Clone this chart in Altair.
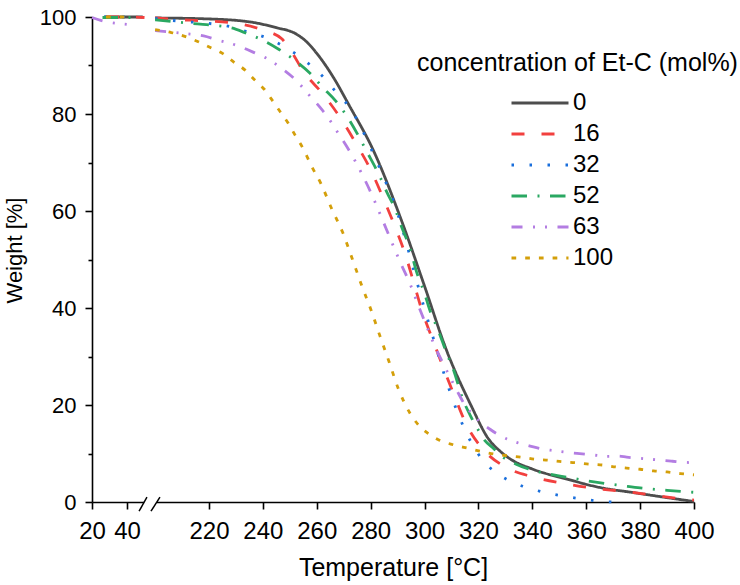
import altair as alt
import pandas as pd

# ---------------- data ----------------
conc = ["0", "16", "32", "52", "63", "100"]
colors = ["#4d4d4d", "#f2403e", "#1a6fdc", "#2aa862", "#b37de2", "#d49f0a"]
dashes = [[1, 0], [13, 17], [2.5, 15.5], [15.5, 10.5, 2, 10.5],
          [11, 10.5, 2, 10, 2, 10.5], [4.7, 9]]

# segment before the axis break (20-50 °C)
T0_left = [27, 35, 42, 49]
W0_left = [100, 100, 100, 100]
T16_left = [28, 36, 43, 50]
W16_left = [100, 100, 100, 99.9]
T32_left = [27, 33, 40]
W32_left = [100, 100, 100]
T52_left = [26, 33, 41, 48]
W52_left = [99.9, 99.9, 99.9, 99.9]
T63_left = [20, 25, 30, 37, 45]
W63_left = [99.9, 99.3, 98.9, 98.6, 98.3]
T100_left = [28, 35, 42]
W100_left = [100, 100, 100]

# segment after the axis break (200-400 °C)
T0 = [200, 220, 235, 245, 252, 256, 260, 266, 272, 281, 291, 300, 308, 317,
      324, 328, 332, 340, 353, 365, 378, 390, 400]
W0 = [99.8, 99.6, 99.0, 97.8, 96.6, 95.0, 92.5, 87.7, 81.8, 72.5, 58.7, 44.5,
      31.5, 20.2, 12.8, 10.5, 8.8, 6.8, 4.7, 3.0, 1.9, 0.9, 0.1]
T16 = [200, 207, 218, 230, 240, 247, 251, 255, 262, 269, 275, 280, 285, 289,
       293, 296, 299, 303, 311, 315.5, 321.5, 330, 340, 352, 363, 374, 386,
       396, 400]
W16 = [99.8, 99.5, 99.2, 98.7, 97.3, 95.5, 92.5, 88.8, 84.3, 79.0, 73.5, 68.5,
       62.2, 56.8, 50.8, 45.2, 39.5, 33.5, 22.0, 16.0, 11.0, 7.2, 5.2, 3.8,
       2.8, 2.2, 1.3, 0.6, 0.4]
T32 = [200, 208, 221, 228, 234, 241, 247, 253, 258, 263, 267, 272, 281, 284,
       289, 293, 296.5, 300, 304, 308, 312.5, 318, 321.6, 327, 333, 339, 346,
       353, 360, 366, 370]
W32 = [99.7, 99.2, 98.6, 98.0, 97.0, 95.8, 94.2, 92.1, 89.9, 87.3, 84.6, 81.5,
       71.8, 68.0, 61.2, 53.9, 46.7, 39.8, 32.4, 25.1, 18.1, 11.6, 8.6, 5.85,
       4.0, 2.8, 1.8, 1.1, 0.5, 0.1, 0.0]
T52 = [200, 213, 228, 234, 240, 246, 252, 257.5, 262, 267, 271, 279, 283.5,
       286, 289, 291.5, 294.6, 297, 300, 302, 305, 308, 311, 314, 317, 320,
       322.5, 325.5, 329, 334, 338, 344, 352, 359, 366, 373, 380, 390, 400]
W52 = [99.4, 98.7, 97.8, 96.6, 95.2, 93.3, 91.0, 88.4, 85.6, 82.7, 79.7, 71.8,
       67.0, 63.9, 60.5, 56.7, 52.3, 47.5, 43.0, 39.5, 35.5, 31.0, 26.8, 21.5,
       17.8, 14.8, 12.6, 11.1, 9.3, 7.8, 6.9, 6.0, 5.2, 4.5, 3.9, 3.4, 2.9,
       2.4, 2.0]
T63 = [200, 206, 211, 218, 223.5, 230, 237, 241, 247, 252.6, 257, 261, 264,
       268, 272.3, 276.7, 280.4, 284, 287.8, 291, 294.6, 297.7, 300.8, 304,
       306.4, 309.5, 312, 315, 318, 321, 324.3, 327, 330.5, 334, 338, 344, 348,
       352, 360, 364, 368, 372, 375, 380, 384, 388, 392, 396, 400]
W63 = [97.2, 96.9, 96.6, 96.1, 95.2, 94.2, 92.6, 91.6, 89.4, 86.8, 84.0, 81.5,
       79.4, 76.0, 72.2, 67.7, 63.4, 58.7, 53.6, 49.4, 45.0, 40.5, 36.2, 31.9,
       29.1, 25.7, 23.0, 20.0, 18.0, 16.4, 15.0, 14.0, 13.0, 12.3, 11.7, 10.9,
       10.6, 10.3, 9.85, 9.6, 9.4, 9.45, 9.25, 9.0, 8.8, 8.6, 8.4, 8.2, 8.1]
T100 = [200, 206, 211, 216, 220.5, 225, 229, 233.5, 237, 240.5, 243.5, 246.5,
        249.5, 252, 255, 258, 261.5, 265.5, 269.6, 273.2, 276.7, 280.2, 283.4,
        286.9, 290.3, 294.6, 297.7, 301.4, 305.7, 310.7, 316, 321.2, 326.2,
        331.5, 336.5, 341, 346.3, 351.3, 356.2, 361.2, 366.4, 371.3, 375, 380,
        385, 390, 395, 400]
W100 = [97.4, 96.8, 96.0, 94.9, 93.7, 92.5, 90.8, 89.0, 87.0, 85.1, 82.8, 80.4,
        78.0, 75.6, 72.8, 69.3, 65.7, 60.5, 55.6, 50.1, 44.6, 39.5, 34.3, 28.8,
        23.3, 18.3, 15.9, 14.1, 12.7, 11.8, 11.1, 10.4, 9.85, 9.5, 9.2, 8.8,
        8.6, 8.3, 8.1, 7.8, 7.6, 7.2, 7.0, 6.75, 6.4, 6.2, 5.85, 5.6]

x_major = [20, 40, 220, 240, 260, 280, 300, 320, 340, 360, 380, 400]
x_minor = [30, 210, 230, 250, 270, 290, 310, 330, 350, 370, 390]
y_ticks = [0, 10, 20, 30, 40, 50, 60, 70, 80, 90, 100]

# ---------------- broken-axis mapping ----------------
LEFT_K = 1.75      # axis units per °C before the break
RIGHT_K = 2.6944   # axis units per °C after the break
RIGHT_0 = 117.0    # axis position of 220 °C


def brk(t):
    return LEFT_K * (t - 20) if t < 120 else RIGHT_0 + RIGHT_K * (t - 220)


BRK_EXPR = f"datum.T < 120 ? {LEFT_K}*(datum.T-20) : {RIGHT_0} + {RIGHT_K}*(datum.T-220)"
T_FROM_V = f"(datum.value < 60 ? round(datum.value/{LEFT_K} + 20) : round((datum.value-{RIGHT_0})/{RIGHT_K} + 220))"

series = {
    "0": (T0_left, W0_left, T0, W0),
    "16": (T16_left, W16_left, T16, W16),
    "32": (T32_left, W32_left, T32, W32),
    "52": (T52_left, W52_left, T52, W52),
    "63": (T63_left, W63_left, T63, W63),
    "100": (T100_left, W100_left, T100, W100),
}
rows = []
for c, (tl, wl, tr, wr) in series.items():
    for t, w in zip(tl, wl):
        rows.append({"conc": c, "seg": c + "a", "T": t, "W": w})
    for t, w in zip(tr, wr):
        rows.append({"conc": c, "seg": c + "b", "T": t, "W": w})
df = pd.DataFrame(rows)

tick_vals = sorted(brk(t) for t in x_major + x_minor)

FONT = "Liberation Sans"

x_axis = alt.Axis(
    values=tick_vals,
    labelExpr=f"{T_FROM_V} % 20 == 0 ? {T_FROM_V} : ''",
    tickSize={"condition": {"test": f"{T_FROM_V} % 20 == 0", "value": 7}, "value": 4},
    title="Temperature [°C]",
    grid=False,
    labelFontSize=24,
    labelPadding=10,
    labelFlush=False,
    labelOverlap=False,
    titleFontSize=25,
    titlePadding=12,
)
y_axis = alt.Axis(
    values=y_ticks,
    labelExpr="datum.value % 20 == 0 ? datum.value : ''",
    tickSize={"condition": {"test": "datum.value % 20 == 0", "value": 7}, "value": 4},
    title="Weight [%]",
    grid=False,
    labelFontSize=22,
    labelPadding=9,
    labelFlush=False,
    labelOverlap=False,
    titleFontSize=22,
    titlePadding=13,
    titleY=233,
)

x_scale = alt.Scale(domain=[0, brk(400)], nice=False, zero=False)
y_scale = alt.Scale(domain=[0, 100], nice=False)

legend = alt.Legend(
    title="concentration of Et-C (mol%)",
    orient="none",
    legendX=325,
    legendY=34,
    padding=0,
    titleFontSize=25,
    titleFontWeight="normal",
    titleAnchor="start",
    titleLimit=1000,
    titlePadding=16,
    labelFontSize=24,
    labelLimit=200,
    symbolType="stroke",
    symbolSize=3249,
    symbolStrokeWidth=3,
    symbolOffset=93,
    labelOffset=3,
    clipHeight=22,
    rowPadding=7,
)

lines = alt.Chart(df).transform_calculate(
    xp=BRK_EXPR
).mark_line(strokeWidth=2.8, strokeCap="butt", interpolate="monotone").encode(
    x=alt.X("xp:Q", scale=x_scale, axis=x_axis),
    y=alt.Y("W:Q", scale=y_scale, axis=y_axis),
    color=alt.Color("conc:N", scale=alt.Scale(domain=conc, range=colors), legend=legend),
    strokeDash=alt.StrokeDash("conc:N", scale=alt.Scale(domain=conc, range=dashes), legend=legend),
    detail="seg:N",
    order="T:Q",
)

# axis-break marker ("//")
gap_df = pd.DataFrame({"x": [brk(49.8)], "x2": [brk(200.7)], "y": [0.0]})
gap = alt.Chart(gap_df).mark_rule(color="white", strokeWidth=4).encode(
    x="x:Q", x2="x2:Q", y="y:Q"
)
slash_df = pd.DataFrame({
    "x": [brk(46.9), brk(53.7)],
    "x2": [brk(51.4), brk(201.8)],
    "y": [-1.9, -1.9],
    "y2": [1.0, 1.0],
})
slashes = alt.Chart(slash_df).mark_rule(color="black", strokeWidth=1.5).encode(
    x="x:Q", x2="x2:Q", y="y:Q", y2="y2:Q"
)

chart = alt.layer(lines, gap, slashes).properties(
    width=602,
    height=485,
    autosize=alt.AutoSizeParams(type="none"),
    padding={"left": 92, "top": 17, "right": 46, "bottom": 83},
).configure(
    font=FONT,
).configure_axis(
    domainColor="black",
    domainWidth=1.6,
    tickColor="black",
    tickWidth=1.6,
    labelColor="black",
    titleColor="black",
    labelFont=FONT,
    titleFont=FONT,
    titleFontWeight="normal",
).configure_legend(
    labelColor="black",
    titleColor="black",
    labelFont=FONT,
    titleFont=FONT,
).configure_view(stroke=None)

chart.save("out.html", embed_options={"renderer": "svg", "actions": False})
